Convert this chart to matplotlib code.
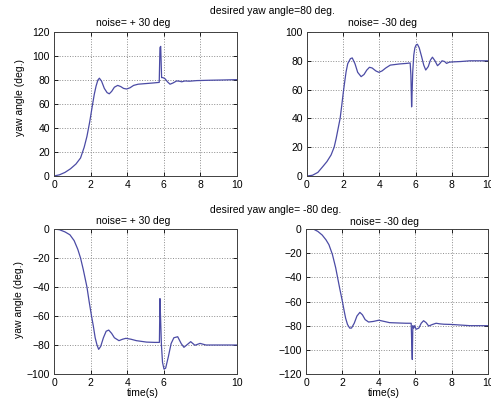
import numpy as np
import matplotlib
matplotlib.use("Agg")
import matplotlib.pyplot as plt

plt.rcParams['font.family'] = ['Liberation Sans', 'DejaVu Sans']

W, H = 491, 407

# top-left: desired 80 deg, noise +30
t_tl = [0, 0.3, 0.6, 0.9, 1.2, 1.45, 1.65, 1.8, 1.95, 2.1, 2.2, 2.3, 2.4, 2.48, 2.6,
        2.75, 2.9, 3.02, 3.15, 3.3, 3.48, 3.65, 3.8, 3.97, 4.15, 4.35, 4.6, 5.0, 5.4,
        5.75, 5.79, 5.83, 5.88, 5.95, 6.07, 6.2, 6.34, 6.5, 6.7, 6.85, 6.98, 7.15,
        7.4, 7.8, 8.5, 9.2, 10]
y_tl = [0, 1, 3, 6, 10, 15, 24, 33, 45, 59, 68, 75, 80, 81.5, 79,
        73, 69.5, 68.5, 70.5, 74, 75.5, 74.5, 73, 72.5, 73.5, 75.5, 76.5, 77, 77.5,
        78, 107, 108, 82, 82, 81, 78.5, 76.5, 77.5, 79.2, 79, 78.5, 79.2,
        79, 79.5, 79.8, 80, 80.3]

# top-right: desired 80 deg, noise -30
t_tr = [0, 0.3, 0.6, 0.87, 1.1, 1.33, 1.5, 1.61, 1.72, 1.83, 1.92, 2.01, 2.1, 2.16,
        2.25, 2.4, 2.5, 2.65, 2.8, 2.99, 3.15, 3.3, 3.45, 3.6, 3.8, 3.97, 4.15, 4.35,
        4.6, 5.1, 5.5, 5.7, 5.74, 5.78, 5.8, 5.84, 5.9, 5.96, 6.03, 6.1, 6.2, 6.33,
        6.45, 6.56, 6.7, 6.82, 6.93, 7.07, 7.21, 7.33, 7.46, 7.6, 7.71, 7.85, 8.0,
        8.5, 9, 10]
y_tr = [0, 0.5, 2.5, 6.5, 10, 14.6, 20, 26, 33, 40, 49, 58.6, 67, 72.4,
        78, 81.5, 82, 78, 72, 69, 70.5, 73.5, 75.5, 75, 73, 72, 73, 75,
        77, 77.8, 78.2, 78.5, 70, 48, 55, 72, 84, 89, 91, 91.5, 89, 83,
        77, 73.6, 76, 80.5, 82.5, 80, 76.6, 78, 80, 79.5, 78.2, 79, 79.2,
        79.5, 80, 80]

# bottom-left: desired -80 deg, noise +30
t_bl = [0, 0.3, 0.6, 0.87, 1.1, 1.3, 1.45, 1.6, 1.8, 1.92, 2.05, 2.15, 2.25, 2.35,
        2.44, 2.55, 2.7, 2.85, 2.99, 3.15, 3.3, 3.55, 3.75, 3.93, 4.2, 4.5, 5.06,
        5.5, 5.76, 5.79, 5.82, 5.87, 5.93, 6.01, 6.1, 6.25, 6.4, 6.55, 6.76, 6.95,
        7.1, 7.3, 7.47, 7.7, 7.98, 8.3, 9, 10]
y_bl = [0, -0.5, -2, -4, -8, -14, -20, -28, -40, -50, -60, -67, -75, -80,
        -83, -81, -75, -70.5, -69.7, -72, -75, -77, -76, -75.4, -76, -77, -78,
        -78.2, -78.2, -48, -60, -80, -92, -96.6, -96, -88, -79, -75, -74.3, -79,
        -81.6, -79.5, -77.7, -80.2, -78.9, -80, -80, -80]

# bottom-right: desired -80 deg, noise -30
t_br = [0, 0.4, 0.65, 0.89, 1.1, 1.26, 1.45, 1.63, 1.85, 2.0, 2.1, 2.18, 2.28, 2.4,
        2.5, 2.65, 2.8, 2.96, 3.1, 3.25, 3.44, 3.7, 4.0, 4.3, 4.59, 5.1, 5.5, 5.78,
        5.81, 5.84, 5.87, 5.92, 5.97, 6.05, 6.2, 6.33, 6.46, 6.6, 6.74, 6.95, 7.15,
        7.35, 7.57, 8, 8.5, 9, 10]
y_br = [0, 0, -2, -5, -9, -13, -21, -32, -49, -60, -68, -74, -79, -82,
        -82, -78, -72, -69, -71, -75, -77, -76.5, -75.5, -76.5, -77.5, -77.8, -78, -78,
        -95, -108, -80, -82, -80, -83, -82, -78, -75.9, -77.5, -80.3, -79, -78,
        -78.5, -78.8, -79, -79.5, -80, -80]

yticks_top_left = [0, 20, 40, 60, 80, 100, 120]
yticks_top_right = [0, 20, 40, 60, 80, 100]
yticks_bot_left = [-100, -80, -60, -40, -20, 0]
yticks_bot_right = [-120, -100, -80, -60, -40, -20, 0]
xticks = [0, 2, 4, 6, 8, 10]
xticks_bl = [0, 2, 4, 6, 10]

line_col = '#4b4ba5'
fs = 7.5

fig = plt.figure(figsize=(W / 100, H / 100), dpi=100)

def box(l, t, r, b):
    return [l / W, 1 - b / H, (r - l) / W, (b - t) / H]

def ptext(x, y, s, **kw):
    fig.text(x / W, 1 - y / H, s, fontsize=fs, ha='center', va='center', **kw)

panels = [
    (box(54, 32, 237, 176), t_tl, y_tl, (0, 120), yticks_top_left, xticks),
    (box(307, 32, 488, 176), t_tr, y_tr, (0, 100), yticks_top_right, xticks),
    (box(54, 229, 237, 374), t_bl, y_bl, (-100, 0), yticks_bot_left, xticks_bl),
    (box(306, 229, 488, 374), t_br, y_br, (-120, 0), yticks_bot_right, xticks),
]

for pos, t, y, ylim, yt, xt in panels:
    ax = fig.add_axes(pos)
    ax.plot(t, y, color=line_col, lw=0.9)
    ax.set_xlim(0, 10)
    ax.set_ylim(*ylim)
    ax.set_xticks(xt)
    ax.set_yticks(yt)
    ax.grid(True, linestyle=':', color='0.55', lw=0.7)
    ax.tick_params(direction='in', length=3, labelsize=fs, width=0.6, pad=3,
                   top=True, right=True)
    for s in ax.spines.values():
        s.set_linewidth(0.7)
        s.set_color('0.25')

ptext(272, 11, 'desired yaw angle=80 deg.')
ptext(276, 210, 'desired yaw angle= -80 deg.')
ptext(133, 23, 'noise= + 30 deg')
ptext(382, 23, 'noise= -30 deg')
ptext(133, 221, 'noise= + 30 deg')
ptext(385, 222, 'noise= -30 deg')
ptext(20, 97, 'yaw angle (deg.)', rotation=90)
ptext(19, 300, 'yaw angle (deg.)', rotation=90)
ptext(143, 393, 'time(s)')
ptext(384, 393, 'time(s)')

fig.savefig('out.png', dpi=100)
